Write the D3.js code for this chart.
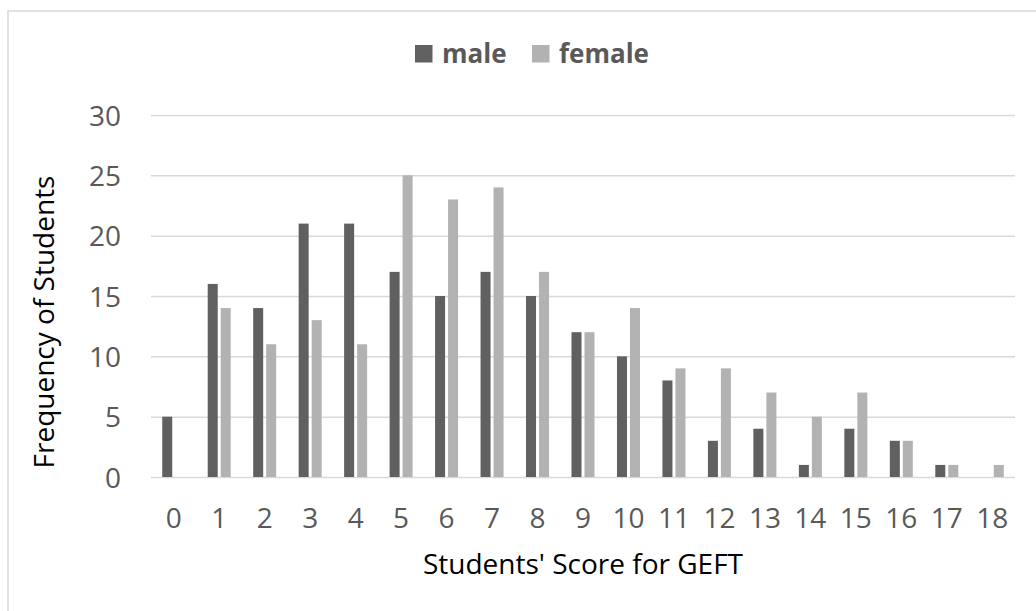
<!DOCTYPE html>
<html>
<head>
<meta charset="utf-8">
<script src="https://cdn.jsdelivr.net/npm/d3@7"></script>
<style>
  html, body { margin: 0; padding: 0; background: #fff; }
  svg { display: block; }
  text { font-family: "Open Sans", "Noto Sans", sans-serif; }
</style>
</head>
<body>
<svg id="chart" width="1036" height="611"></svg>
<script>
// GEFT score distribution by gender
const scores = ["0","1","2","3","4","5","6","7","8","9","10","11","12","13","14","15","16","17","18"];
const male   = [5, 16, 14, 21, 21, 17, 15, 17, 15, 12, 10, 8, 3, 4, 1, 4, 3, 1, 0];
const female = [0, 14, 11, 13, 11, 25, 23, 24, 17, 12, 14, 9, 9, 7, 5, 7, 3, 1, 1];
const seriesNames = ["male", "female"];
const yTicks = [0, 5, 10, 15, 20, 25, 30];

const colors = { male: "#606060", female: "#b2b2b2" };

const svg = d3.select("#chart");
const W = 1036, H = 611;

// outer chart frame (right and bottom edges fall outside the canvas)
svg.append("rect")
  .attr("x", 8).attr("y", 11)
  .attr("width", W + 40).attr("height", H + 40)
  .attr("fill", "#fff")
  .attr("stroke", "#d9d9d9")
  .attr("stroke-width", 1.5);

const plot = { left: 151, right: 1015, top: 115, bottom: 477 };

const x = d3.scaleBand().domain(scores).range([plot.left, plot.right]).paddingInner(0).paddingOuter(0);
const groupW = x.bandwidth() * 0.506;
const xs = d3.scaleBand().domain(seriesNames).range([0, groupW]).paddingInner(0.2308).paddingOuter(0);
const y = d3.scaleLinear().domain([0, 30]).range([plot.bottom, plot.top]);

// y axis: gridlines + labels
const yAxis = svg.append("g")
  .attr("transform", `translate(${plot.left},0)`)
  .call(d3.axisLeft(y).tickValues(yTicks).tickSize(-(plot.right - plot.left)).tickPadding(30).tickFormat(d3.format("d")));
yAxis.select(".domain").remove();
yAxis.selectAll(".tick line").attr("stroke", "#d9d9d9").attr("stroke-width", 1.5);
yAxis.selectAll(".tick text")
  .attr("fill", "#595959")
  .style("font-size", "28px")
  .attr("dy", "0.36em");

// x axis labels
const xAxis = svg.append("g")
  .attr("transform", `translate(0,${plot.bottom})`)
  .call(d3.axisBottom(x).tickSize(0).tickPadding(31));
xAxis.select(".domain").remove();
xAxis.selectAll(".tick text")
  .attr("fill", "#595959")
  .style("font-size", "28px");

// bars
const rows = scores.map((s, i) => ({ score: s, male: male[i], female: female[i] }));
const groups = svg.append("g").selectAll("g")
  .data(rows)
  .join("g")
  .attr("transform", d => `translate(${x(d.score) + (x.bandwidth() - groupW) / 2},0)`);

groups.selectAll("rect")
  .data(d => seriesNames.map(k => ({ key: k, value: d[k] })))
  .join("rect")
  .attr("x", d => xs(d.key))
  .attr("width", xs.bandwidth())
  .attr("y", d => y(d.value))
  .attr("height", d => y(0) - y(d.value))
  .attr("fill", d => colors[d.key]);

// axis titles
svg.append("text")
  .attr("x", (plot.left + plot.right) / 2)
  .attr("y", 574)
  .attr("text-anchor", "middle")
  .attr("fill", "#000")
  .style("font-size", "28px")
  .text("Students' Score for GEFT");

svg.append("text")
  .attr("transform", "translate(54,322) rotate(-90)")
  .attr("text-anchor", "middle")
  .attr("fill", "#000")
  .style("font-size", "28px")
  .text("Frequency of Students");

// legend
const legendX = { male: 415, female: 532 };
const legend = svg.append("g");
seriesNames.forEach(k => {
  legend.append("rect")
    .attr("x", legendX[k]).attr("y", 45)
    .attr("width", 17.5).attr("height", 17.5)
    .attr("fill", colors[k]);
  legend.append("text")
    .attr("x", legendX[k] + 27)
    .attr("y", 62.5)
    .attr("fill", "#595959")
    .style("font-size", "26px")
    .style("font-weight", "bold")
    .text(k);
});
</script>
</body>
</html>
